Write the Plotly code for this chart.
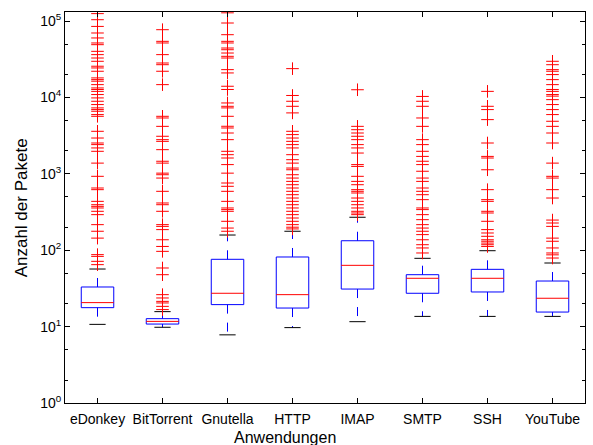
import plotly.graph_objects as go

categories = ["eDonkey", "BitTorrent", "Gnutella", "HTTP", "IMAP", "SMTP", "SSH", "YouTube"]
lower_whisker = [10.7, 9.8, 7.8, 9.7, 11.6, 13.6, 13.6, 13.6]
q1 = [17.7, 10.8, 19.4, 17.5, 31, 27.3, 28.4, 15.5]
median = [20.6, 11.7, 27.3, 26.2, 63.4, 42.9, 42.9, 23.5]
q3 = [33, 12.7, 76, 81.5, 133, 47.8, 56.2, 39.5]
upper_whisker = [56.7, 15.7, 158, 177, 270, 78.3, 98.5, 68]

outliers_edonkey = [125000, 104000, 85000, 69700, 60000, 51600, 49000, 40100, 36300, 32800, 29700,
                    25600, 24300, 22000, 18000, 17100, 16300, 14700, 13300, 12700, 12000, 10900,
                    9850, 8900, 8060, 7290, 6930, 6590, 5960, 5660, 3600, 2940, 2530, 2410, 2180,
                    1970, 1380, 927, 652, 620, 436, 394, 375, 357, 323, 292, 216, 177, 144, 87.5,
                    83, 71.5, 64.7]
outliers_bittorrent = [77000, 54200, 51600, 36300, 28200, 26800, 22000, 14700, 5660, 5380, 4180,
                       3100, 2800, 2660, 2070, 1460, 1380, 1020, 973, 880, 590, 415, 394, 323, 216,
                       205, 186, 137, 112, 96.6, 58.5, 47.8, 26.2, 23.7, 21.4, 20.4, 18.4, 16.7]
outliers_gnutella = [128000, 94200, 66200, 54200, 51600, 44300, 42100, 38100, 34500, 32800, 23100,
                     20900, 14000, 12700, 8460, 7650, 7290, 5660, 4190, 3980, 3420, 2800, 1970,
                     1780, 1610, 1320, 1020, 758, 686, 590, 436, 357, 340, 323, 239, 195, 177]
outliers_http = [23800, 10600, 8900, 7650, 6270, 3600, 3260, 2940, 2660, 2410, 2180, 1780, 1530,
                 1380, 1190, 1130, 973, 880, 796, 720, 652, 590, 533, 482, 436, 394, 357, 323,
                 292, 264, 239, 216, 200, 190]
outliers_imap = [12600, 4180, 3780, 3420, 3100, 2800, 2410, 2180, 1870, 1320, 1250, 927, 796, 720,
                 620, 590, 561, 482, 436, 394, 357, 323, 307, 292]
outliers_smtp = [10300, 8900, 7650, 5380, 4180, 2800, 2410, 1970, 1690, 1460, 1320, 1080, 880, 796,
                 652, 590, 533, 459, 357, 340, 292, 251, 216, 195, 177, 160, 137, 118, 107, 92]
outliers_ssh = [12000, 7650, 6930, 5120, 2530, 1690, 1610, 1130, 620, 459, 436, 323, 307, 239, 186,
                168, 152, 137, 131, 124, 118, 112]
outliers_youtube = [29700, 26800, 23100, 22000, 19900, 17100, 14700, 12700, 12000, 10900, 10400,
                    9350, 8060, 6930, 5960, 4870, 4180, 3420, 2530, 1380, 927, 880, 620, 482, 248,
                    227, 205, 144, 131, 107, 92, 87, 79]
outliers = [outliers_edonkey, outliers_bittorrent, outliers_gnutella, outliers_http,
            outliers_imap, outliers_smtp, outliers_ssh, outliers_youtube]

y_tick_values = [1, 10, 100, 1000, 10000, 100000]
y_tick_labels = ["10<sup>0</sup>", "10<sup>1</sup>", "10<sup>2</sup>", "10<sup>3</sup>",
                 "10<sup>4</sup>", "10<sup>5</sup>"]

BOX_HALF = 0.25
CAP_HALF = 0.125
pos = list(range(1, len(categories) + 1))

box_x, box_y = [], []
med_x, med_y = [], []
wh_x, wh_y = [], []
cap_x, cap_y = [], []
out_x, out_y = [], []
for i, p in enumerate(pos):
    box_x += [p - BOX_HALF, p + BOX_HALF, p + BOX_HALF, p - BOX_HALF, p - BOX_HALF, None]
    box_y += [q1[i], q1[i], q3[i], q3[i], q1[i], None]
    med_x += [p - BOX_HALF, p + BOX_HALF, None]
    med_y += [median[i], median[i], None]
    wh_x += [p, p, None, p, p, None]
    wh_y += [q3[i], upper_whisker[i], None, q1[i], lower_whisker[i], None]
    cap_x += [p - CAP_HALF, p + CAP_HALF, None, p - CAP_HALF, p + CAP_HALF, None]
    cap_y += [upper_whisker[i], upper_whisker[i], None, lower_whisker[i], lower_whisker[i], None]
    out_x += [p] * len(outliers[i])
    out_y += outliers[i]

fig = go.Figure()
fig.add_trace(go.Scatter(x=wh_x, y=wh_y, mode="lines",
                         line=dict(color="#0000ff", width=1, dash="dash"), hoverinfo="skip"))
fig.add_trace(go.Scatter(x=cap_x, y=cap_y, mode="lines",
                         line=dict(color="black", width=1), hoverinfo="skip"))
fig.add_trace(go.Scatter(x=box_x, y=box_y, mode="lines",
                         line=dict(color="#0000ff", width=1), hoverinfo="skip"))
fig.add_trace(go.Scatter(x=med_x, y=med_y, mode="lines",
                         line=dict(color="#ff0000", width=1), hoverinfo="skip"))
fig.add_trace(go.Scatter(x=out_x, y=out_y, mode="markers",
                         marker=dict(symbol="cross-thin", size=9,
                                     line=dict(color="#ff0000", width=1)),
                         hoverinfo="skip", cliponaxis=True))

fig.update_layout(
    width=593, height=445,
    margin=dict(l=65, r=8, t=12, b=42),
    paper_bgcolor="white", plot_bgcolor="white",
    showlegend=False,
    font=dict(family="Liberation Sans, Arial, sans-serif", size=14, color="black"),
    xaxis=dict(range=[0.5, 8.5], tickmode="array", tickvals=pos, ticktext=categories,
               ticks="inside", ticklen=5, tickcolor="black", showline=True, linecolor="black",
               linewidth=1, mirror="allticks", showgrid=False, zeroline=False,
               tickfont=dict(size=14), ticklabelstandoff=3),
    yaxis=dict(type="log", range=[0, 5.118], tickmode="array", tickvals=y_tick_values,
               ticktext=y_tick_labels, ticks="inside", ticklen=5, tickcolor="black",
               showline=True, linecolor="black", linewidth=1, mirror="allticks",
               showgrid=False, zeroline=False, tickfont=dict(size=14),
               minor=dict(ticks="inside", ticklen=3, tickcolor="black", showgrid=False)),
    annotations=[
        dict(text="Anwendungen", xref="paper", yref="paper", x=0.423, y=-0.088,
             xanchor="center", yanchor="middle", showarrow=False, font=dict(size=16)),
        dict(text="Anzahl der Pakete", xref="paper", yref="paper", x=-0.083, y=0.5,
             xanchor="center", yanchor="middle", showarrow=False, textangle=-90,
             font=dict(size=17)),
    ],
)

fig.write_html("out.html")
